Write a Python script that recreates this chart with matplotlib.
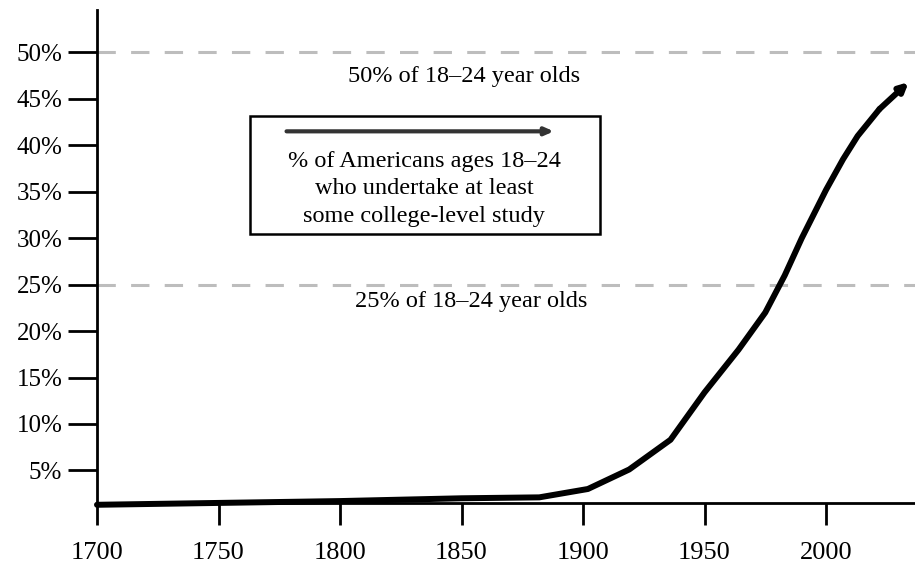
import numpy as np
import matplotlib.pyplot as plt

# Werte
years = [1700, 1750, 1800, 1850, 1882, 1902, 1919, 1936, 1950, 1964, 1975,
         1983, 1990, 2000, 2007, 2013, 2022, 2034]
share = [1.3, 1.5, 1.7, 2.0, 2.1, 3.0, 5.1, 8.3, 13.4, 18.0, 22.0,
         26.0, 30.0, 35.2, 38.5, 41.0, 43.9, 46.8]
x_ticks = [1700, 1750, 1800, 1850, 1900, 1950, 2000]
y_ticks = [5, 10, 15, 20, 25, 30, 35, 40, 45, 50]
ref_levels = [50, 25]
ref_labels = ["50% of 18\u201324 year olds", "25% of 18\u201324 year olds"]
box_lines = "% of Americans ages 18\u201324\nwho undertake at least\nsome college-level study"

plt.rcParams['font.family'] = ['Liberation Serif', 'DejaVu Serif']

fig = plt.figure(figsize=(9.15, 5.67), dpi=100)
ax = fig.add_axes([0.106, 0.113, 0.894, 0.870])

ax.set_xlim(1700, 2036.6)
ax.set_ylim(1.5, 54.6)

# Referenzlinien
for lvl in ref_levels:
    ax.plot([1700, 2037], [lvl, lvl], color='#bdbdbd', linewidth=2.2,
            linestyle=(0, (6, 5)), zorder=1)
ax.text(1851, 47.4, ref_labels[0], fontsize=17.5, ha='center', va='center')
ax.text(1854, 23.2, ref_labels[1], fontsize=17.5, ha='center', va='center')

# Kurve mit Pfeilspitze
ax.plot(years[:-1], share[:-1], color='black', linewidth=4.3,
        solid_capstyle='round', solid_joinstyle='round', zorder=3, clip_on=False)
ax.annotate('', xy=(years[-1], share[-1]), xytext=(years[-2], share[-2]),
            arrowprops=dict(arrowstyle='-|>,head_length=0.5,head_width=0.25',
                            color='black', linewidth=4.3, shrinkA=0, shrinkB=0),
            zorder=3)

# Kasten mit Beschriftung
box = plt.Rectangle((1762.9, 30.4), 1907 - 1762.9, 43.1 - 30.4,
                    facecolor='white', edgecolor='black', linewidth=1.8, zorder=2)
ax.add_patch(box)
ax.text(1834.6, 35.3, box_lines, fontsize=17.5, ha='center', va='center',
        linespacing=1.42, zorder=4)
ax.annotate('', xy=(1888, 41.5), xytext=(1778, 41.5),
            arrowprops=dict(arrowstyle='-|>,head_length=0.5,head_width=0.22',
                            color='#333333', linewidth=3, shrinkA=0, shrinkB=0),
            zorder=4)

ax.spines['top'].set_visible(False)
ax.spines['right'].set_visible(False)
ax.spines['left'].set_linewidth(2)
ax.spines['bottom'].set_linewidth(2)

ax.set_xticks(x_ticks)
ax.set_yticks(y_ticks)
ax.set_yticklabels([f"{v}%" for v in y_ticks])
ax.tick_params(axis='y', direction='out', length=21, width=2, labelsize=18, pad=4)
ax.tick_params(axis='x', direction='out', length=16, width=2, labelsize=19, pad=12)

fig.savefig('out.png', dpi=100)
